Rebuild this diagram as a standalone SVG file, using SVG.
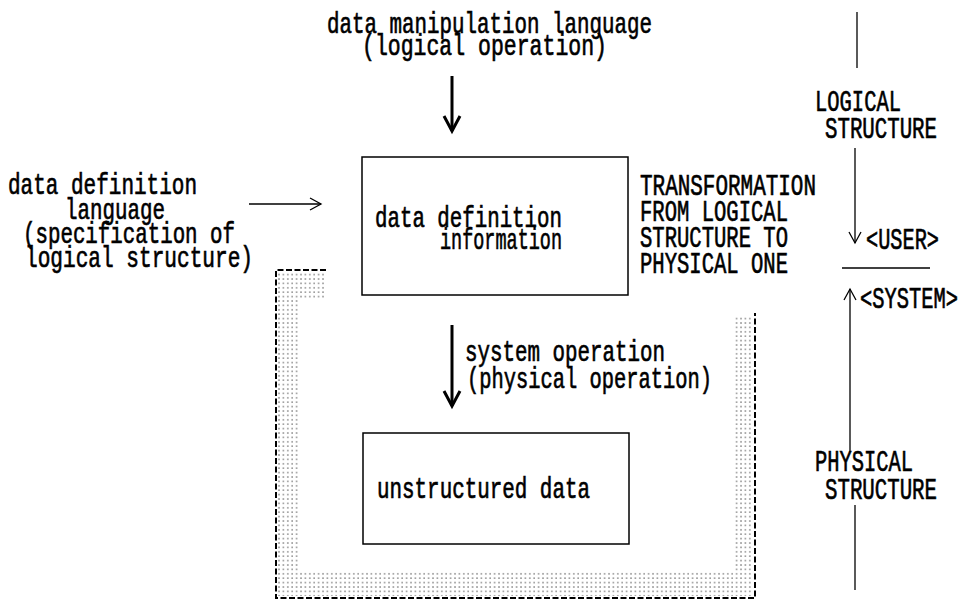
<svg xmlns="http://www.w3.org/2000/svg" width="968" height="602" viewBox="0 0 968 602">
<style>
  text { font-family: "Liberation Mono", "DejaVu Sans Mono", monospace; font-size: 22px; fill: #000; stroke: #000; stroke-width: 0.5; }
  .box { fill: none; stroke: #000; stroke-width: 1.5; }
  .thick { stroke: #000; stroke-width: 3; fill: none; }
  .thin { stroke: #000; stroke-width: 1.3; fill: none; }
  .dash { fill: none; stroke: #000; stroke-width: 2; stroke-dasharray: 6 2.5; }
</style>
<defs>
  <pattern id="dots" width="4.4" height="4.4" patternUnits="userSpaceOnUse">
    <rect x="1.2" y="1.2" width="1.2" height="1.2" fill="#444"/>
  </pattern>
  <marker id="headThick" markerUnits="userSpaceOnUse" viewBox="-20 -15 30 30" markerWidth="30" markerHeight="30" refX="0" refY="0" orient="auto" overflow="visible">
    <path d="M-15,-8 L0,0 L-15,8" fill="none" stroke="#000" stroke-width="3"/>
  </marker>
  <marker id="headThin" markerUnits="userSpaceOnUse" viewBox="-20 -15 30 30" markerWidth="30" markerHeight="30" refX="0" refY="0" orient="auto" overflow="visible">
    <path d="M-11,-6 L0,0 L-11,6" fill="none" stroke="#000" stroke-width="1.3"/>
  </marker>
</defs>

<g id="region-dotted">
  <path d="M278,272 H324 V298 H300 V571 H733 V315 H753 V596 H278 Z" fill="url(#dots)"/>
  <path class="dash" d="M326,270 H276 V598 H755 V313"/>
</g>

<g id="node-dml">
  <text x="327" y="33" transform="matrix(1 0 0 1.3 0 -9.9)" textLength="325" lengthAdjust="spacingAndGlyphs">data manipulation language</text>
  <text x="362" y="55" transform="matrix(1 0 0 1.3 0 -16.5)" textLength="245" lengthAdjust="spacingAndGlyphs">(logical operation)</text>
</g>

<g id="node-ddl">
  <text x="8" y="194" transform="matrix(1 0 0 1.3 0 -58.2)" textLength="189" lengthAdjust="spacingAndGlyphs">data definition</text>
  <text x="65" y="219" transform="matrix(1 0 0 1.3 0 -65.7)" textLength="100" lengthAdjust="spacingAndGlyphs">language</text>
  <text x="23" y="243" transform="matrix(1 0 0 1.3 0 -72.9)" textLength="212" lengthAdjust="spacingAndGlyphs">(specification of</text>
  <text x="25" y="267" transform="matrix(1 0 0 1.3 0 -80.1)" textLength="228" lengthAdjust="spacingAndGlyphs">logical structure)</text>
</g>

<g id="node-ddi">
  <rect class="box" x="362" y="157" width="266" height="138"/>
  <text x="375" y="227" transform="matrix(1 0 0 1.3 0 -68.1)" textLength="187" lengthAdjust="spacingAndGlyphs">data definition</text>
  <text x="440" y="249" transform="matrix(1 0 0 1.3 0 -74.7)" textLength="122" lengthAdjust="spacingAndGlyphs">information</text>
</g>

<g id="node-transformation">
  <text x="640" y="195" transform="matrix(1 0 0 1.3 0 -58.5)" textLength="176" lengthAdjust="spacingAndGlyphs">TRANSFORMATION</text>
  <text x="640" y="221" transform="matrix(1 0 0 1.3 0 -66.3)" textLength="148" lengthAdjust="spacingAndGlyphs">FROM LOGICAL</text>
  <text x="640" y="247" transform="matrix(1 0 0 1.3 0 -74.1)" textLength="148" lengthAdjust="spacingAndGlyphs">STRUCTURE TO</text>
  <text x="640" y="273" transform="matrix(1 0 0 1.3 0 -81.9)" textLength="148" lengthAdjust="spacingAndGlyphs">PHYSICAL ONE</text>
</g>

<g id="node-sysop">
  <text x="465" y="361" transform="matrix(1 0 0 1.3 0 -108.3)" textLength="200" lengthAdjust="spacingAndGlyphs">system operation</text>
  <text x="467" y="388" transform="matrix(1 0 0 1.3 0 -116.4)" textLength="245" lengthAdjust="spacingAndGlyphs">(physical operation)</text>
</g>

<g id="node-unstructured">
  <rect class="box" x="363" y="433" width="266" height="111"/>
  <text x="377" y="498" transform="matrix(1 0 0 1.3 0 -149.4)" textLength="213" lengthAdjust="spacingAndGlyphs">unstructured data</text>
</g>

<g id="node-scale">
  <text x="815" y="111" transform="matrix(1 0 0 1.3 0 -33.3)" textLength="86" lengthAdjust="spacingAndGlyphs">LOGICAL</text>
  <text x="825" y="138" transform="matrix(1 0 0 1.3 0 -41.4)" textLength="112" lengthAdjust="spacingAndGlyphs">STRUCTURE</text>
  <text x="866" y="249" transform="matrix(1 0 0 1.3 0 -74.7)" textLength="73" lengthAdjust="spacingAndGlyphs">&lt;USER&gt;</text>
  <text x="860" y="308" transform="matrix(1 0 0 1.3 0 -92.4)" textLength="98" lengthAdjust="spacingAndGlyphs">&lt;SYSTEM&gt;</text>
  <text x="815" y="471" transform="matrix(1 0 0 1.3 0 -141.3)" textLength="98" lengthAdjust="spacingAndGlyphs">PHYSICAL</text>
  <text x="825" y="499" transform="matrix(1 0 0 1.3 0 -149.7)" textLength="112" lengthAdjust="spacingAndGlyphs">STRUCTURE</text>
</g>

<g id="connectors">
  <line class="thick" x1="452" y1="76" x2="452" y2="131" marker-end="url(#headThick)"/>
  <line class="thin" x1="249" y1="204" x2="321" y2="204" marker-end="url(#headThin)"/>
  <line class="thick" x1="452" y1="325" x2="452" y2="406" marker-end="url(#headThick)"/>
  <line class="thin" x1="857" y1="12" x2="857" y2="68"/>
  <line class="thin" x1="855" y1="148" x2="855" y2="243" marker-end="url(#headThin)"/>
  <line class="thin" x1="842" y1="268" x2="930" y2="268"/>
  <line class="thin" x1="850" y1="452" x2="850" y2="289" marker-end="url(#headThin)"/>
  <line class="thin" x1="855" y1="505" x2="855" y2="590"/>
</g>
</svg>
